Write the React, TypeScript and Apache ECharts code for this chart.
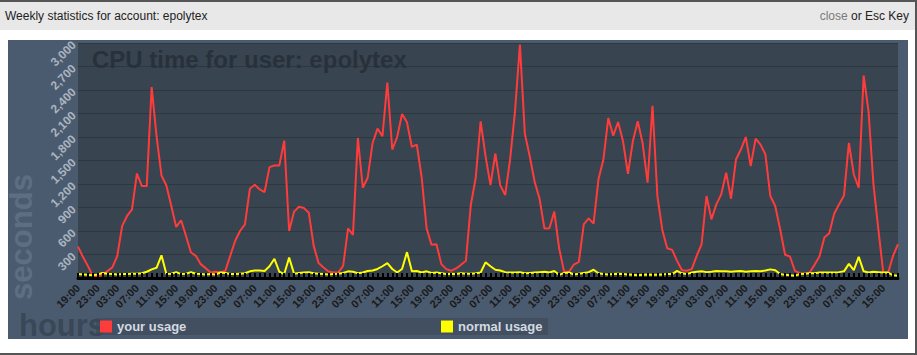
import React, { useEffect, useRef } from "react";
import * as echarts from "echarts";

// Hour labels, one per hour of the week, starting at 19:00
const START_HOUR = 19;
const HOURS_COUNT = 168;
const hourLabels: string[] = [];
for (let i = 0; i < HOURS_COUNT; i++) {
  const h = (START_HOUR + i) % 24;
  hourLabels.push((h < 10 ? "0" : "") + h + ":00");
}

const yTickMax = 3000;
const yTickStep = 300;

// "your usage" (seconds of CPU per hour)
const yourUsage: number[] = [
  400, 270, 155, 30, 20, 40, 90, 135, 283, 665, 792, 876,
  1334, 1173, 1173, 2437, 1809, 1309, 1181, 919, 652, 737, 537, 325,
  283, 177, 126, 70, 80, 70, 90, 283, 473, 600, 685, 1139,
  1190, 1131, 1097, 1415, 1436, 1436, 1754, 600, 847, 910, 893, 834,
  410, 190, 134, 84, 70, 70, 155, 635, 550, 1788, 1152, 1280,
  1724, 1907, 1809, 2496, 1640, 1800, 2093, 1987, 1673, 1703, 1280, 631,
  423, 431, 177, 113, 92, 122, 168, 219, 932, 1280, 2000, 1555,
  1186, 1589, 1182, 1059, 1513, 2127, 2980, 1843, 1555, 1228, 1012, 631,
  635, 847, 376, 79, 79, 172, 206, 685, 762, 694, 1260, 1512,
  2042, 1817, 1991, 1746, 1330, 1746, 2000, 1716, 1216, 2199, 1046, 614,
  380, 359, 219, 100, 92, 113, 283, 431, 1046, 749, 940, 1067,
  1343, 1012, 1512, 1640, 1800, 1428, 1780, 1703, 1576, 1046, 919, 622,
  296, 274, 92, 62, 50, 70, 168, 274, 516, 571, 821, 940,
  1054, 1724, 1321, 1152, 2585, 2127, 1194, 622, 70, 70, 283, 431,
];

// "normal usage"
const normalUsage: number[] = [
  50, 45, 40, 35, 45, 65, 55, 50, 45, 50, 50, 55,
  55, 60, 80, 110, 130, 290, 50, 55, 75, 50, 55, 75,
  55, 50, 45, 50, 45, 70, 65, 50, 50, 55, 60, 85,
  95, 95, 90, 150, 245, 80, 50, 260, 55, 65, 70, 75,
  60, 55, 50, 45, 50, 55, 65, 85, 80, 60, 70, 90,
  95, 115, 150, 190, 115, 70, 115, 330, 85, 90, 70, 85,
  65, 70, 60, 50, 55, 50, 60, 55, 55, 60, 70, 200,
  150, 105, 95, 75, 70, 70, 75, 60, 65, 70, 75, 80,
  70, 90, 40, 65, 70, 45, 55, 65, 75, 105, 60, 50,
  45, 50, 55, 50, 45, 40, 35, 40, 45, 40, 40, 45,
  50, 50, 90, 60, 50, 70, 80, 85, 75, 80, 90, 85,
  85, 80, 85, 90, 80, 85, 90, 85, 95, 110, 100, 50,
  40, 35, 30, 50, 55, 60, 60, 70, 70, 70, 70, 75,
  85, 180, 100, 270, 85, 70, 80, 75, 70, 70, 35, 30,
];

const FONT = "'Liberation Sans', Arial, sans-serif";

export default function App() {
  const ref = useRef<HTMLDivElement>(null);

  useEffect(() => {
    if (!ref.current) return;
    const chart = echarts.init(ref.current, undefined, { renderer: "svg" });
    chart.setOption({
      animation: false,
      backgroundColor: "#ffffff",
      textStyle: { fontFamily: FONT },
      grid: {
        left: 78,
        right: 19,
        top: 43,
        bottom: 77,
        show: true,
        backgroundColor: "#38444f",
        borderWidth: 0,
        z: 0,
      },
      legend: [
        {
          data: ["your usage"],
          left: 100,
          top: 320,
          padding: 0,
          icon: "rect",
          itemWidth: 12,
          itemHeight: 12,
          selectedMode: false,
          textStyle: { color: "#d3d9e0", fontWeight: "bold", fontSize: 13, fontFamily: FONT },
        },
        {
          data: ["normal usage"],
          left: 441,
          top: 320,
          padding: 0,
          icon: "rect",
          itemWidth: 12,
          itemHeight: 12,
          selectedMode: false,
          textStyle: { color: "#d3d9e0", fontWeight: "bold", fontSize: 13, fontFamily: FONT },
        },
      ],
      xAxis: {
        type: "category",
        data: hourLabels,
        boundaryGap: false,
        z: 3,
        axisLine: { lineStyle: { color: "#000000", width: 3 } },
        axisTick: {
          show: true,
          interval: 0,
          inside: true,
          length: 5,
          lineStyle: { color: "#000000", width: 2 },
        },
        axisLabel: {
          interval: 3,
          rotate: 45,
          margin: 8,
          color: "#1a1a1a",
          fontWeight: "bold",
          fontSize: 11,
          fontFamily: FONT,
        },
        splitLine: { show: false },
      },
      yAxis: {
        type: "value",
        min: 0,
        max: yTickMax,
        interval: yTickStep,
        axisLine: { show: false },
        axisTick: { show: false },
        axisLabel: {
          rotate: 45,
          margin: 4,
          color: "#aab4bf",
          fontWeight: "bold",
          fontSize: 12,
          fontFamily: FONT,
          formatter: (v: number) => (v === 0 ? "" : v.toLocaleString("en-US")),
        },
        splitLine: { lineStyle: { color: "#2d3740", width: 1 } },
      },
      series: [
        {
          name: "your usage",
          type: "line",
          data: yourUsage,
          symbol: "none",
          color: "#ff3c3c",
          itemStyle: { color: "#ff3c3c" },
          lineStyle: { color: "#ff3c3c", width: 2 },
          z: 2,
        },
        {
          name: "normal usage",
          type: "line",
          data: normalUsage,
          symbol: "none",
          color: "#ffff00",
          itemStyle: { color: "#ffff00" },
          lineStyle: { color: "#ffff00", width: 2 },
          z: 2,
        },
      ],
      graphic: [
        // page frame
        { type: "rect", z: -5, shape: { x: 0, y: 0, width: 917, height: 2 }, style: { fill: "#555555" } },
        { type: "rect", z: -5, shape: { x: 0, y: 2, width: 917, height: 28 }, style: { fill: "#e8e8e8" } },
        { type: "rect", z: -5, shape: { x: 915, y: 0, width: 2, height: 355 }, style: { fill: "#555555" } },
        { type: "rect", z: -5, shape: { x: 0, y: 353, width: 917, height: 2 }, style: { fill: "#555555" } },
        {
          type: "text",
          z: -4,
          x: 5,
          y: 16,
          style: {
            text: "Weekly statistics for account: epolytex",
            fill: "#222222",
            font: `12px ${FONT}`,
            textAlign: "left",
            textVerticalAlign: "middle",
          },
        },
        {
          type: "text",
          z: -4,
          x: 909,
          y: 16,
          style: {
            text: "{a|close} {b|or Esc Key}",
            textAlign: "right",
            textVerticalAlign: "middle",
            font: `12px ${FONT}`,
            rich: {
              a: { fill: "#7a7a7a", font: `12px ${FONT}` },
              b: { fill: "#222222", font: `12px ${FONT}` },
            },
          },
        },
        // chart panel
        { type: "rect", z: -3, shape: { x: 8, y: 40, width: 900, height: 299 }, style: { fill: "#4b5b6f" } },
        // legend band
        { type: "rect", z: -2, shape: { x: 96, y: 318, width: 452, height: 17 }, style: { fill: "#414f60" } },
        // axis titles
        {
          type: "text",
          z: -1,
          x: 21,
          y: 237,
          rotation: Math.PI / 2,
          style: {
            text: "seconds",
            fill: "#5e6e82",
            font: `bold 31px ${FONT}`,
            textAlign: "center",
            textVerticalAlign: "middle",
          },
        },
        {
          type: "text",
          z: -1,
          x: 19,
          y: 325,
          style: {
            text: "hours",
            fill: "#3a4757",
            font: `bold 31px ${FONT}`,
            textAlign: "left",
            textVerticalAlign: "middle",
          },
        },
        // plot title
        {
          type: "text",
          z: 1,
          x: 92,
          y: 59,
          style: {
            text: "CPU time for user: epolytex",
            fill: "#28313b",
            font: `bold 24px ${FONT}`,
            textAlign: "left",
            textVerticalAlign: "middle",
          },
        },
      ],
    });
    return () => chart.dispose();
  }, []);

  return (
    <div
      ref={ref}
      style={{ position: "absolute", left: 0, top: 0, width: 917, height: 355 }}
    />
  );
}
